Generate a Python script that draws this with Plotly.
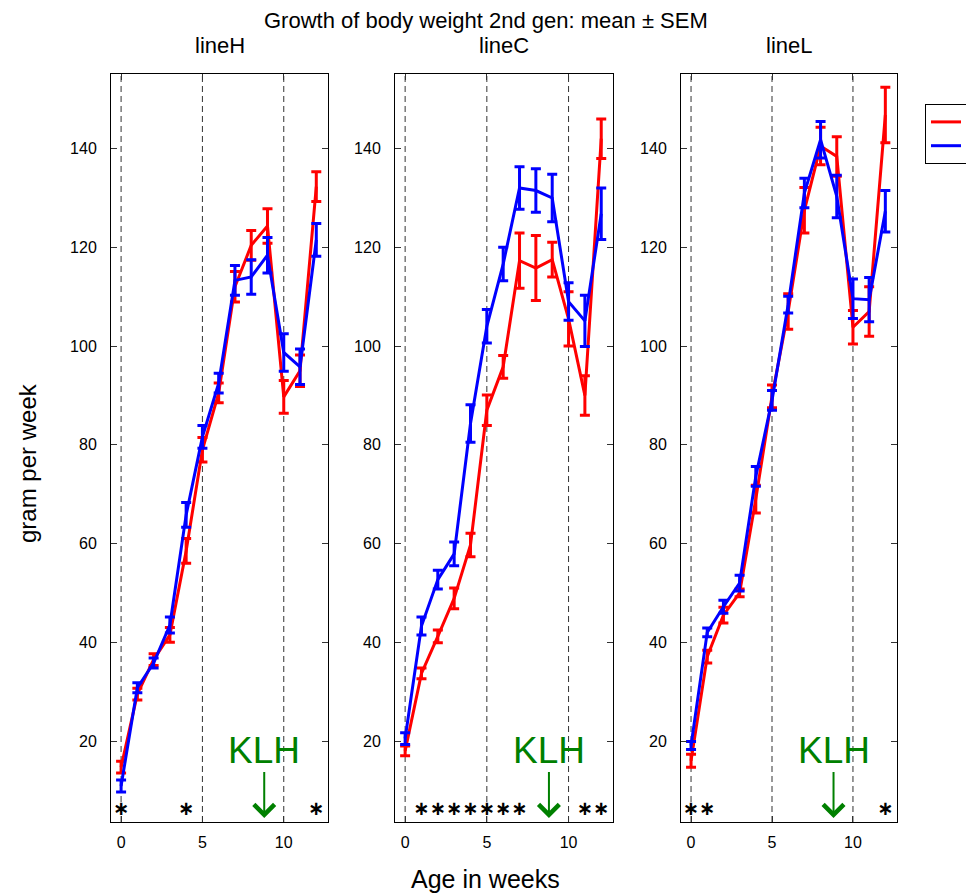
import plotly.graph_objects as go

weeks = list(range(13))
panel_names = ["lineH", "lineC", "lineL"]

red_H = [14.7, 29.5, 36.5, 41.5, 58.5, 79.0, 90.5, 112.0, 120.4, 124.3, 89.7, 95.0, 132.3]
red_H_sem = [1.2, 1.2, 1.2, 1.5, 2.5, 2.5, 2.0, 3.1, 3.0, 3.5, 3.3, 3.2, 3.0]
blue_H = [10.9, 30.8, 35.8, 43.5, 65.8, 81.6, 92.5, 113.3, 114.0, 118.4, 98.7, 95.8, 121.5]
blue_H_sem = [1.2, 1.0, 1.0, 1.6, 2.5, 2.3, 2.0, 3.0, 3.5, 3.6, 3.8, 3.6, 3.3]

red_C = [18.0, 33.7, 41.2, 48.9, 59.7, 87.0, 95.8, 117.3, 115.8, 117.5, 105.5, 90.0, 142.0]
red_C_sem = [1.0, 1.1, 1.3, 2.1, 2.4, 3.1, 2.3, 5.6, 6.6, 3.5, 5.5, 4.0, 4.0]
blue_C = [20.5, 43.3, 52.7, 57.9, 84.3, 104.0, 116.6, 132.0, 131.5, 130.0, 109.0, 105.1, 126.8]
blue_C_sem = [1.2, 1.8, 1.9, 2.4, 3.8, 3.4, 3.4, 4.3, 4.4, 4.8, 3.8, 5.2, 5.2]

red_L = [16.0, 37.1, 45.5, 50.0, 69.0, 89.8, 107.0, 127.5, 140.5, 138.4, 103.8, 107.0, 146.8]
red_L_sem = [1.3, 1.3, 1.6, 0.8, 2.8, 2.3, 3.6, 4.6, 3.8, 4.0, 3.4, 5.0, 5.6]
blue_L = [19.1, 42.0, 47.2, 52.0, 73.6, 89.0, 108.4, 131.0, 141.8, 130.3, 109.6, 109.4, 127.3]
blue_L_sem = [0.8, 0.9, 1.3, 1.6, 2.0, 2.0, 1.7, 3.0, 3.7, 4.3, 4.0, 4.5, 4.2]

stars_H = [0, 4, 12]
stars_C = [1, 2, 3, 4, 5, 6, 7, 11, 12]
stars_L = [0, 1, 12]

divider_weeks = [0, 5, 10]
klh_week = 8.8
klh_tip_level = 4.4
x_ticks = [0, 5, 10]
y_ticks = [20, 40, 60, 80, 100, 120, 140]
legend_names = ["A", "B"]

red_series = [(red_H, red_H_sem), (red_C, red_C_sem), (red_L, red_L_sem)]
blue_series = [(blue_H, blue_H_sem), (blue_C, blue_C_sem), (blue_L, blue_L_sem)]
star_series = [stars_H, stars_C, stars_L]

FONT = "Liberation Sans, Arial, Helvetica, sans-serif"
STAR_LEVEL = 6.0
# page body has an 8px margin: figure is drawn at (8, 8) inside the 974x894 window
OFF = 8
W, H = 974 - OFF, 894 - OFF


def px(x):
    return (x - OFF) / W


def py(y):
    return 1 - (y - OFF) / H


x_domains_px = [(111, 328), (395, 613), (681, 897)]
y_domain_px = (74, 822)

fig = go.Figure()
annotations = []
shapes = []

for i in range(3):
    sfx = "" if i == 0 else str(i + 1)
    xa, ya = "x" + sfx, "y" + sfx
    for (vals, sem), color, name in [(red_series[i], "#ff0000", legend_names[0]),
                                     (blue_series[i], "#0000ff", legend_names[1])]:
        fig.add_trace(go.Scatter(
            x=weeks, y=vals, mode="lines", name=name, showlegend=(i == 0),
            line=dict(color=color, width=3),
            error_y=dict(type="data", array=sem, visible=True, color=color,
                         thickness=3, width=5),
            xaxis=xa, yaxis=ya, cliponaxis=False))
    fig.add_trace(go.Scatter(
        x=star_series[i], y=[STAR_LEVEL] * len(star_series[i]), mode="text",
        text=["∗"] * len(star_series[i]), textposition="middle center",
        textfont=dict(size=19.5, color="black", family="DejaVu Sans", weight="bold"),
        showlegend=False, hoverinfo="skip", xaxis=xa, yaxis=ya, cliponaxis=False))
    for w in divider_weeks:
        shapes.append(dict(type="line", xref=xa, yref=ya + " domain", x0=w, x1=w,
                           y0=0, y1=1, layer="below",
                           line=dict(color="#333333", width=1, dash="6px,4px")))
    annotations.append(dict(x=klh_week, y=klh_tip_level, xref=xa, yref=ya, text="KLH",
                            showarrow=True, ax=0, ay=-68, arrowhead=4, arrowsize=2.0,
                            arrowwidth=2, arrowcolor="#008000", standoff=0, startstandoff=0,
                            font=dict(size=37, color="#008000", family=FONT)))
    x0, x1 = x_domains_px[i]
    axis_common = dict(showline=True, linecolor="black", linewidth=1, mirror="allticks",
                       ticks="inside", ticklen=6, tickcolor="#333333", tickwidth=1,
                       showgrid=False, zeroline=False,
                       tickfont=dict(size=16, color="black", family=FONT))
    fig.update_layout(**{
        "xaxis" + sfx: dict(domain=[px(x0), px(x1)], range=[-0.62, 12.72],
                            tickvals=x_ticks, anchor=ya, ticklabelstandoff=6, **axis_common),
        "yaxis" + sfx: dict(domain=[py(y_domain_px[1]), py(y_domain_px[0])],
                            range=[3.6, 155.1], tickvals=y_ticks, anchor=xa,
                            ticklabelstandoff=10, **axis_common),
    })
    annotations.append(dict(x=px((x0 + x1) / 2), y=py(45), xref="paper", yref="paper",
                            text=panel_names[i], showarrow=False, borderpad=0, borderwidth=0,
                            font=dict(size=22, color="black", family=FONT),
                            xanchor="center", yanchor="middle"))

annotations.append(dict(x=px(486), y=py(20.5), xref="paper", yref="paper",
                        text="Growth of body weight 2nd gen: mean ± SEM", showarrow=False,
                        borderpad=0, borderwidth=0,
                        font=dict(size=22, color="black", family=FONT),
                        xanchor="center", yanchor="middle"))
annotations.append(dict(x=px(485), y=py(879), xref="paper", yref="paper",
                        text="Age in weeks", showarrow=False,
                        font=dict(size=25, color="black", family=FONT),
                        xanchor="center", yanchor="middle"))
annotations.append(dict(x=px(27), y=py(463), xref="paper", yref="paper",
                        text="gram per week", showarrow=False, textangle=-90,
                        font=dict(size=24, color="black", family=FONT),
                        xanchor="center", yanchor="middle"))

fig.update_layout(
    width=W, height=H,
    margin=dict(l=0, r=0, t=0, b=0, autoexpand=False),
    paper_bgcolor="white", plot_bgcolor="white",
    font=dict(family=FONT, color="black", size=16),
    annotations=annotations, shapes=shapes,
    legend=dict(x=px(925), y=py(104), xanchor="left", yanchor="top",
                bordercolor="black", borderwidth=1, bgcolor="white",
                font=dict(size=16, color="black", family=FONT),
                tracegroupgap=0, itemwidth=30),
)

fig.write_html("out.html")
